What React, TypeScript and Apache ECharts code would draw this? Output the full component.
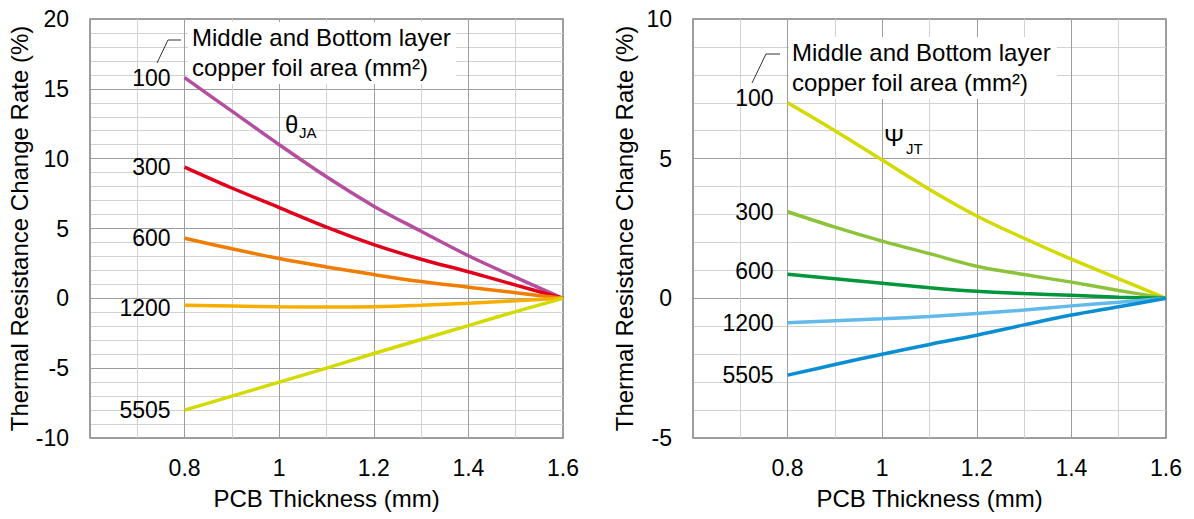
import React, { useEffect, useRef } from 'react';
import * as echarts from 'echarts';

// PCB thickness (mm) sample points
const thickness = [0.8, 0.9, 1.0, 1.1, 1.2, 1.3, 1.4, 1.5, 1.6];

// Middle and bottom layer copper foil area (mm2)
const areaLabels = ['100', '300', '600', '1200', '5505'];

// θJA change rate (%)
const ja100 = [15.8, 13.4, 11.0, 8.7, 6.6, 4.8, 3.05, 1.5, 0];
const ja300 = [9.4, 7.9, 6.5, 5.1, 3.85, 2.8, 1.9, 0.95, 0];
const ja600 = [4.3, 3.55, 2.85, 2.25, 1.7, 1.2, 0.8, 0.4, 0];
const ja1200 = [-0.5, -0.55, -0.6, -0.62, -0.6, -0.5, -0.35, -0.17, 0];
const ja5505 = [-8.0, -7.0, -6.0, -5.0, -3.95, -2.95, -1.95, -0.95, 0];

// ΨJT change rate (%)
const jt100 = [7.0, 6.0, 4.95, 3.9, 2.95, 2.15, 1.4, 0.7, 0];
const jt300 = [3.1, 2.55, 2.05, 1.6, 1.15, 0.85, 0.58, 0.28, 0];
const jt600 = [0.86, 0.7, 0.54, 0.38, 0.25, 0.17, 0.11, 0.04, 0];
const jt1200 = [-0.87, -0.8, -0.73, -0.65, -0.54, -0.42, -0.27, -0.14, 0];
const jt5505 = [-2.75, -2.37, -2.0, -1.65, -1.32, -0.95, -0.6, -0.3, 0];

// Axis ranges / tick labels
const xMin = 0.6;
const xMax = 1.6;
const xInterval = 0.2;
const xTickLabels = ['0.8', '1', '1.2', '1.4', '1.6'];
const leftYMin = -10;
const leftYMax = 20;
const rightYMin = -5;
const rightYMax = 10;
const yInterval = 5;

const xName = 'PCB Thickness (mm)';
const yName = 'Thermal Resistance Change Rate (%)';
const noteText = 'Middle and Bottom layer\ncopper foil area (mm²)';

const FONT = '"Liberation Sans", Arial, Helvetica, sans-serif';

const leftColors = ['#B44FA0', '#E0001B', '#F07D00', '#F8AE00', '#D2DA00'];
const rightColors = ['#D2DA00', '#8CC33A', '#00963C', '#62B9EA', '#0A8ED3'];
const leftLabelOffsets = [0, 0, 0, 3, 0];
const rightLabelOffsets = [-5, 0, -3, 0, 0];

function makeSeries(name: string, values: number[], color: string, idx: number, dy: number) {
  return {
    type: 'line',
    name,
    xAxisIndex: idx,
    yAxisIndex: idx,
    smooth: 0.35,
    symbol: 'circle',
    symbolSize: 0,
    showSymbol: true,
    z: 3,
    itemStyle: { color, borderWidth: 0, opacity: 1 },
    lineStyle: { color, width: 3.5 },
    emphasis: { disabled: true },
    data: thickness.map((x, i) =>
      i === 0
        ? {
            value: [x, values[i]],
            label: {
              show: true,
              position: 'left',
              distance: 14,
              offset: [0, dy],
              formatter: name,
              color: '#000',
              fontSize: 23,
              fontFamily: FONT,
            },
          }
        : [x, values[i]]
    ),
  };
}

function xAxis(gridIndex: number) {
  return {
    type: 'value',
    gridIndex,
    min: xMin,
    max: xMax,
    interval: xInterval,
    name: xName,
    nameLocation: 'middle',
    nameGap: 48,
    nameTextStyle: { fontSize: 24, color: '#000', fontFamily: FONT },
    axisLine: { show: false, onZero: false },
    axisTick: { show: false },
    axisLabel: {
      margin: 18,
      fontSize: 23,
      color: '#000',
      fontFamily: FONT,
      showMinLabel: false,
      formatter: (v: number) => {
        const s = String(Math.round(v * 10) / 10);
        return xTickLabels.indexOf(s) >= 0 ? s : '';
      },
    },
    splitLine: { show: true, lineStyle: { color: '#9c9c9c', width: 1 } },
    minorTick: { show: false, splitNumber: 2 },
    minorSplitLine: { show: true, lineStyle: { color: '#d2d2d2', width: 1 } },
  };
}

function yAxis(gridIndex: number, min: number, max: number) {
  return {
    type: 'value',
    gridIndex,
    min,
    max,
    interval: yInterval,
    name: yName,
    nameLocation: 'middle',
    nameGap: 57,
    nameTextStyle: { fontSize: 24, color: '#000', fontFamily: FONT },
    axisLine: { show: false },
    axisTick: { show: false },
    axisLabel: { margin: 21, fontSize: 23, color: '#000', fontFamily: FONT },
    splitLine: { show: true, lineStyle: { color: '#9c9c9c', width: 1 } },
    minorTick: { show: false, splitNumber: 5 },
    minorSplitLine: { show: true, lineStyle: { color: '#d2d2d2', width: 1 } },
  };
}

export default function App() {
  const ref = useRef<HTMLDivElement>(null);
  useEffect(() => {
    if (!ref.current) return;
    const chart = echarts.init(ref.current, null, { renderer: 'svg' });
    const jaData = [ja100, ja300, ja600, ja1200, ja5505];
    const jtData = [jt100, jt300, jt600, jt1200, jt5505];
    const series: any[] = [];
    areaLabels.forEach((n, i) => series.push(makeSeries(n, jaData[i], leftColors[i], 0, leftLabelOffsets[i])));
    areaLabels.forEach((n, i) => series.push(makeSeries(n, jtData[i], rightColors[i], 1, rightLabelOffsets[i])));

    const textStyle = (size: number) => ({ fontSize: size, fontFamily: FONT, fill: '#000' });

    chart.setOption({
      animation: false,
      backgroundColor: '#ffffff',
      textStyle: { fontFamily: FONT },
      grid: [
        { left: 90, top: 19, width: 473, height: 419, show: true, borderColor: '#808080', borderWidth: 1.5, backgroundColor: 'transparent' },
        { left: 693, top: 19, width: 473, height: 419, show: true, borderColor: '#808080', borderWidth: 1.5, backgroundColor: 'transparent' },
      ],
      xAxis: [xAxis(0), xAxis(1)],
      yAxis: [yAxis(0, leftYMin, leftYMax), yAxis(1, rightYMin, rightYMax)],
      series,
      graphic: [
        { type: 'rect', z: 1, shape: { x: 188, y: 22, width: 268, height: 62 }, style: { fill: '#ffffff' } },
        { type: 'text', z: 11, x: 192, y: 22, style: { ...textStyle(24), text: noteText, lineHeight: 30, verticalAlign: 'top' } },
        { type: 'polyline', z: 11, shape: { points: [[157, 63], [168, 40], [181, 40]] }, style: { stroke: '#333', lineWidth: 1, fill: null } },
        { type: 'text', z: 11, x: 285, y: 124, style: { ...textStyle(24), text: 'θ', verticalAlign: 'middle' } },
        { type: 'text', z: 11, x: 299, y: 132, style: { ...textStyle(15), text: 'JA', verticalAlign: 'middle' } },

        { type: 'rect', z: 1, shape: { x: 789, y: 37, width: 268, height: 62 }, style: { fill: '#ffffff' } },
        { type: 'text', z: 11, x: 792, y: 37, style: { ...textStyle(24), text: noteText, lineHeight: 30, verticalAlign: 'top' } },
        { type: 'polyline', z: 11, shape: { points: [[752, 83], [766, 54], [780, 54]] }, style: { stroke: '#333', lineWidth: 1, fill: null } },
        { type: 'text', z: 11, x: 884, y: 137, style: { ...textStyle(24), text: 'Ψ', verticalAlign: 'middle' } },
        { type: 'text', z: 11, x: 906, y: 148, style: { ...textStyle(15), text: 'JT', verticalAlign: 'middle' } },
      ],
    });
    return () => chart.dispose();
  }, []);
  return (
    <div
      ref={ref}
      style={{ position: 'absolute', left: 0, top: 0, width: 1194, height: 519, background: '#fff' }}
    />
  );
}
